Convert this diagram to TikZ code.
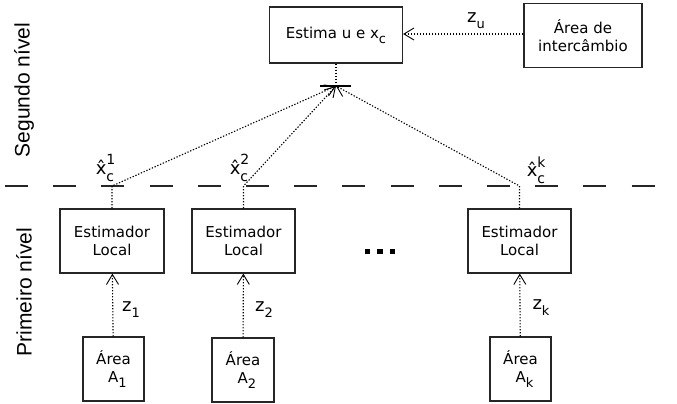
\documentclass[tikz,border=0pt]{standalone}
\usepackage{fontspec}
\setmainfont{DejaVu Sans}
\newfontfamily\sidefont{Liberation Sans}
\usetikzlibrary{arrows.meta}

% letter with a lowered index
\newcommand\lowidx[2]{#1\raisebox{-0.6ex}{\fontsize{13}{13}\selectfont #2}}
% hatted x with upper and lower index
\newcommand\hatx[1]{\^x\rlap{\raisebox{1.0ex}{\fontsize{14}{14}\selectfont #1}}\raisebox{-0.65ex}{\fontsize{14}{14}\selectfont c}}

\tikzset{
  box/.style={draw=black!85, line width=1.2pt, inner sep=0pt, align=center,
    font=\fontsize{15}{18}\selectfont},
  dotline/.style={dash pattern=on 1.3pt off 1.7pt, line width=1.1pt, black},
  flow/.style={dotline,
    -{Straight Barb[length=10pt,width=12pt,line width=0.9pt,sep=0pt]}},
  junction bar/.style={line width=1.4pt, black},
  level/.style={font=\sidefont\fontsize{21}{21}\selectfont, rotate=90, inner sep=0pt},
  math label/.style={font=\fontsize{18}{18}\selectfont, inner sep=0pt},
  dot square/.style={fill=black, minimum size=5.5pt, inner sep=0pt},
}

\begin{document}
\begin{tikzpicture}[x=1pt,y=-1pt]
\useasboundingbox (0,0) rectangle (677,404);

% level labels
\node[level] (seg) at (24,90) {Segundo nível};
\node[level] (pri) at (24,292) {Primeiro nível};

% separation between the two levels
\coordinate (sepL) at (5,186);
\coordinate (sepR) at (656,186);
\draw[line width=1.2pt, black!85, dash pattern=on 23pt off 25.2pt] (sepL) -- (sepR);

% second level
\node[box, minimum width=133pt, minimum height=56pt] (est) at (336,35) {Estima u e \lowidx{x}{c}};
\node[box, minimum width=118pt, minimum height=64pt] (troca) at (583,35.5) {Área de\\intercâmbio};
\draw[flow] (troca.west |- 0,34) -- (est.east |- 0,34);
\node[math label] (zu) at (476,21) {\lowidx{z}{u}};

% junction of the local estimates
\coordinate (j) at (336,86);
\coordinate (jl) at (320,86);
\coordinate (jr) at (351,86);
\draw[dotline] (est.south) -- (j);
\draw[junction bar] (jl) -- (jr);

% first level
\node[box, minimum width=104pt, minimum height=64pt] (loc1) at (112,241) {Estimador\\Local};
\node[box, minimum width=103pt, minimum height=64pt] (loc2) at (243.5,241) {Estimador\\Local};
\node[box, minimum width=103pt, minimum height=64pt] (loc3) at (519.5,241) {Estimador\\Local};

\node[box, minimum width=61pt, minimum height=64pt] (ar1) at (113.5,369) {Área\\\hspace*{8pt}\lowidx{A}{1}};
\node[box, minimum width=62pt, minimum height=64pt] (ar2) at (243,370) {Área\\\hspace*{8pt}\lowidx{A}{2}};
\node[box, minimum width=61pt, minimum height=64pt] (ar3) at (520.5,369) {Área\\\hspace*{8pt}\lowidx{A}{k}};

\draw[flow] (ar1) -- (loc1);
\draw[flow] (ar2) -- (loc2);
\draw[flow] (ar3) -- (loc3);

\node[math label] (z1) at (131,310) {\lowidx{z}{1}};
\node[math label] (z2) at (264,310) {\lowidx{z}{2}};
\node[math label] (zk) at (541,308) {\lowidx{z}{k}};

% local estimates sent up
\coordinate (b1) at (112,186);
\coordinate (b2) at (243.5,186);
\coordinate (b3) at (519.5,186);
\draw[flow] (loc1.north) -- (b1) -- (j);
\draw[flow] (loc2.north) -- (b2) -- (j);
\draw[flow] (loc3.north) -- (b3) -- (j);

\node[math label] (h1) at (105,168) {\hatx{1}};
\node[math label] (h2) at (239,168) {\hatx{2}};
\node[math label] (hk) at (536,170) {\hatx{k}};

% ellipsis between the local estimators
\node[dot square] (d1) at (367.5,251.5) {};
\node[dot square] (d2) at (380,251.5) {};
\node[dot square] (d3) at (392.5,251.5) {};
\end{tikzpicture}
\end{document}
